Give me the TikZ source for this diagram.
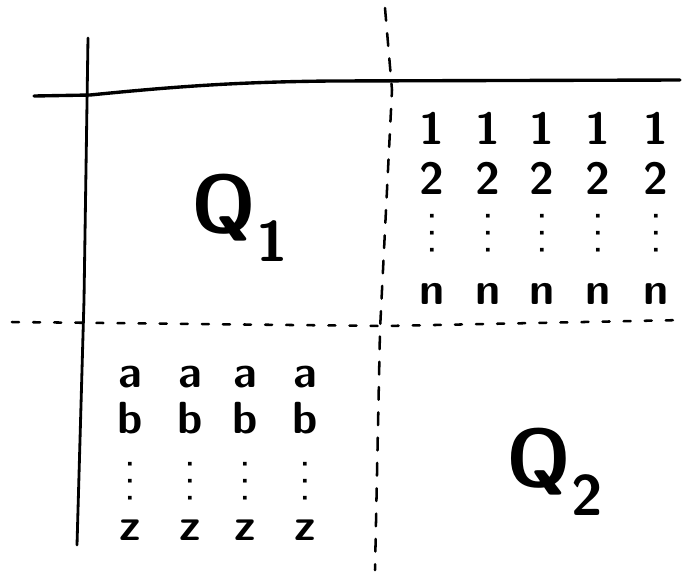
\documentclass[tikz,border=0pt]{standalone}
\usepackage{amsmath,amssymb}
\usepackage{tikz}

\begin{document}
\begin{tikzpicture}[x=0.025cm,y=-0.025cm,line cap=round,
  entry/.style={font=\sffamily\bfseries\fontsize{32}{34}\selectfont,inner sep=0pt},
  dotcol/.style={font=\sffamily\fontsize{9}{12}\selectfont,align=center,inner sep=0pt},
  quad/.style={font=\sffamily\bfseries\fontsize{58}{62}\selectfont,inner sep=0pt}]
\useasboundingbox (0,0) rectangle (683,575);
\draw[line width=2.4pt] (34,96) -- (90,95) .. controls (180,86) and (240,82) .. (330,81) -- (680,80);
\draw[line width=2pt] (88,38) -- (84,300) -- (77,545);
\draw[line width=1.8pt,dash pattern=on 9pt off 9pt] (385,8) -- (392,90) -- (380,330) -- (375,570);
\draw[line width=1.8pt,dash pattern=on 5pt off 10pt] (12,322) -- (385,326) -- (683,320);
\node[quad] (q1) at (240,218) {Q\textsubscript{1}};
\node[quad] (q2) at (555,472) {Q\textsubscript{2}};
\foreach \x [count=\i] in {432,488,542,598,656} {
  \node[entry] (one\i) at (\x,128) {1};
  \node[entry] (two\i) at (\x,178) {2};
  \node[dotcol] (rd\i) at (\x,234) {\textbullet\\\textbullet\\\textbullet};
  \node[entry] (n\i) at (\x,294) {n};
}
\foreach \x [count=\i] in {130,190,245,305} {
  \node[entry] (a\i) at (\x,377) {a};
  \node[entry] (b\i) at (\x,418) {b};
  \node[dotcol] (ld\i) at (\x,482) {\textbullet\\\textbullet\\\textbullet};
  \node[entry] (z\i) at (\x,530) {z};
}
\end{tikzpicture}
\end{document}
